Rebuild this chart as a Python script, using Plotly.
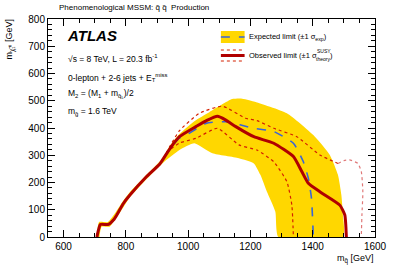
import plotly.graph_objects as go

# ---- data ----
obs_m = [707, 712, 718, 744, 760, 771, 792, 813, 866, 909, 940, 972, 1025, 1060, 1094, 1120, 1153, 1211, 1275, 1338, 1365, 1386, 1423, 1487, 1503, 1508]
obs_y = [0, 25, 46, 46, 62, 81, 123, 154, 221, 268, 322, 368, 405, 428, 443, 430, 405, 368, 344, 295, 240, 197, 166, 117, 81, 0]

exp_m = [707, 712, 718, 744, 760, 771, 792, 813, 866, 909, 940, 972, 994, 1057, 1121, 1211, 1275, 1338, 1370, 1386, 1396, 1402]
exp_y = [0, 25, 46, 46, 62, 81, 123, 154, 221, 268, 322, 363, 374, 417, 423, 399, 387, 344, 276, 215, 142, 0]

theo_up_m = [707, 712, 718, 744, 760, 771, 792, 813, 866, 909, 940, 972, 1036, 1110, 1184, 1221, 1275, 1349, 1423, 1481]
theo_up_y = [0, 25, 46, 46, 62, 81, 123, 154, 221, 268, 330, 390, 454, 480, 436, 427, 399, 368, 301, 270]
theo_tail_m = [1481, 1500, 1518, 1545, 1556, 1561, 1558, 1556]
theo_tail_y = [270, 280, 283, 270, 240, 166, 80, 0]

theo_dn_m = [707, 712, 718, 744, 760, 771, 792, 813, 866, 909, 940, 972, 1025, 1094, 1163, 1221, 1275, 1317, 1333, 1338]
theo_dn_y = [0, 25, 46, 46, 62, 81, 123, 154, 221, 268, 318, 345, 362, 399, 338, 319, 276, 203, 117, 0]

band_up_m = [705, 709, 714, 742, 768, 790, 812, 866, 919, 940, 972, 1020, 1068, 1141, 1170, 1211, 1317, 1402, 1455, 1481, 1492, 1497, 1498]
band_up_y = [0, 30, 55, 55, 92, 130, 163, 228, 290, 333, 378, 425, 458, 506, 508, 497, 454, 374, 301, 228, 154, 81, 0]
band_dn_m = [1290, 1280, 1253, 1232, 1211, 1163, 1078, 1020, 972, 919, 866, 813, 795, 772, 748, 722, 715]
band_dn_y = [0, 93, 166, 228, 270, 289, 307, 344, 319, 272, 212, 146, 115, 75, 38, 38, 0]

x_ticks = [600, 800, 1000, 1200, 1400, 1600]
y_ticks = [0, 100, 200, 300, 400, 500, 600, 700, 800]

# ---- figure ----
W, H = 399, 270
L, R, T, B = 48, 20, 19, 33
FONT = "Liberation Sans, Arial, Helvetica, sans-serif"
YEL = "#ffd700"
RED = "#b00000"
DOT = "#d42000"
BLUE = "#3a64d8"
SM = 0.5

def px(x):
    return (x - L) / (W - L - R)

def py(y):
    return (H - B - y) / (H - T - B)

fig = go.Figure()
fig.add_trace(go.Scatter(x=band_up_m + band_dn_m, y=band_up_y + band_dn_y, fill="toself",
                         fillcolor=YEL, line=dict(width=0, color=YEL, shape="spline", smoothing=SM),
                         mode="lines", hoverinfo="skip"))
fig.add_trace(go.Scatter(x=theo_dn_m, y=theo_dn_y, mode="lines",
                         line=dict(color=DOT, width=1.2, dash="dot", shape="spline", smoothing=SM)))
fig.add_trace(go.Scatter(x=theo_up_m, y=theo_up_y, mode="lines",
                         line=dict(color=DOT, width=1.2, dash="dot", shape="spline", smoothing=SM)))
fig.add_trace(go.Scatter(x=theo_tail_m, y=theo_tail_y, mode="lines",
                         line=dict(color="#e07878", width=1.2, dash="dot", shape="spline", smoothing=SM)))
fig.add_trace(go.Scatter(x=exp_m, y=exp_y, mode="lines",
                         line=dict(color=BLUE, width=1.6, dash="dash", shape="spline", smoothing=SM)))
fig.add_trace(go.Scatter(x=obs_m, y=obs_y, mode="lines",
                         line=dict(color=RED, width=3, shape="spline", smoothing=SM)))

axis_common = dict(showgrid=False, zeroline=False, showline=True, linecolor="black", linewidth=1,
                   mirror="ticks", ticks="inside", tickcolor="black", ticklen=7, tickwidth=1,
                   ticklabeloverflow="allow",
                   tickfont=dict(family=FONT, size=10, color="black"))
fig.update_xaxes(range=[550, 1600], tickvals=x_ticks, ticktext=[str(v) for v in x_ticks],
                 minor=dict(dtick=50, tick0=0, ticks="inside", ticklen=4, tickcolor="black"), **axis_common)
fig.update_yaxes(range=[0, 800], tickvals=y_ticks, ticktext=[str(v) for v in y_ticks],
                 minor=dict(dtick=20, tick0=0, ticks="inside", ticklen=4, tickcolor="black"), **axis_common)

shapes = [
    dict(type="rect", xref="paper", yref="paper", x0=px(223), x1=px(247), y0=py(43), y1=py(31),
         fillcolor=YEL, line=dict(width=0)),
    dict(type="line", xref="paper", yref="paper", x0=px(223), x1=px(247), y0=py(37), y1=py(37),
         line=dict(color=BLUE, width=1.6, dash="dash")),
    dict(type="line", xref="paper", yref="paper", x0=px(223), x1=px(247), y0=py(50), y1=py(50),
         line=dict(color=DOT, width=1, dash="dot")),
    dict(type="line", xref="paper", yref="paper", x0=px(223), x1=px(247), y0=py(55.5), y1=py(55.5),
         line=dict(color=RED, width=3)),
    dict(type="line", xref="paper", yref="paper", x0=px(223), x1=px(247), y0=py(61), y1=py(61),
         line=dict(color=DOT, width=1, dash="dot")),
]

def ann(text, x, y, size=8, xanchor="left", yanchor="middle", **kw):
    return dict(text=text, x=px(x), y=py(y), xref="paper", yref="paper", showarrow=False,
                xanchor=xanchor, yanchor=yanchor, borderpad=0,
                font=dict(family=FONT, size=size, color="black"), **kw)

annotations = [
    ann("Phenomenological MSSM: q\u0303 q\u0303  Production", 58, 8, size=8),
    ann("<b><i>ATLAS</i></b>", 66, 35, size=15),
    ann("\u221As = 8 TeV, L = 20.3 fb<sup>-1</sup>", 67, 58, size=8.5),
    ann("0-lepton + 2-6 jets + E<sub>T</sub><sup>miss</sup>", 67, 77, size=8.5),
    ann("M<sub>2</sub> = (M<sub>1</sub> + m<sub>q\u0303<sub>L</sub></sub>)/2", 67, 94, size=8.5),
    ann("m<sub>g\u0303</sub> = 1.6 TeV", 67, 111, size=8.5),
    ann("Expected limit (\u00b11 \u03c3<sub>exp</sub>)", 250, 37, size=7.5),
    ann("Observed limit (\u00b11 \u03c3", 250, 55, size=7.5),
    ann("SUSY", 319, 51, size=5),
    ann("theory", 318, 59, size=5),
    ann(")", 332, 55, size=7.5),
    ann("m<sub>q\u0303</sub> [GeV]", 379, 259, size=9, xanchor="right"),
    ann("m<sub>\u03c7\u0303\u2081\u2070</sub> [GeV]", 10, 18, size=9, xanchor="center", yanchor="top", textangle=-90),
]

fig.update_layout(width=W, height=H, margin=dict(l=L, r=R, t=T, b=B), showlegend=False,
                  plot_bgcolor="white", paper_bgcolor="white", shapes=shapes, annotations=annotations,
                  font=dict(family=FONT))

fig.write_html("out.html", config={"displayModeBar": False},
               post_script="document.body.style.margin='0px';")
